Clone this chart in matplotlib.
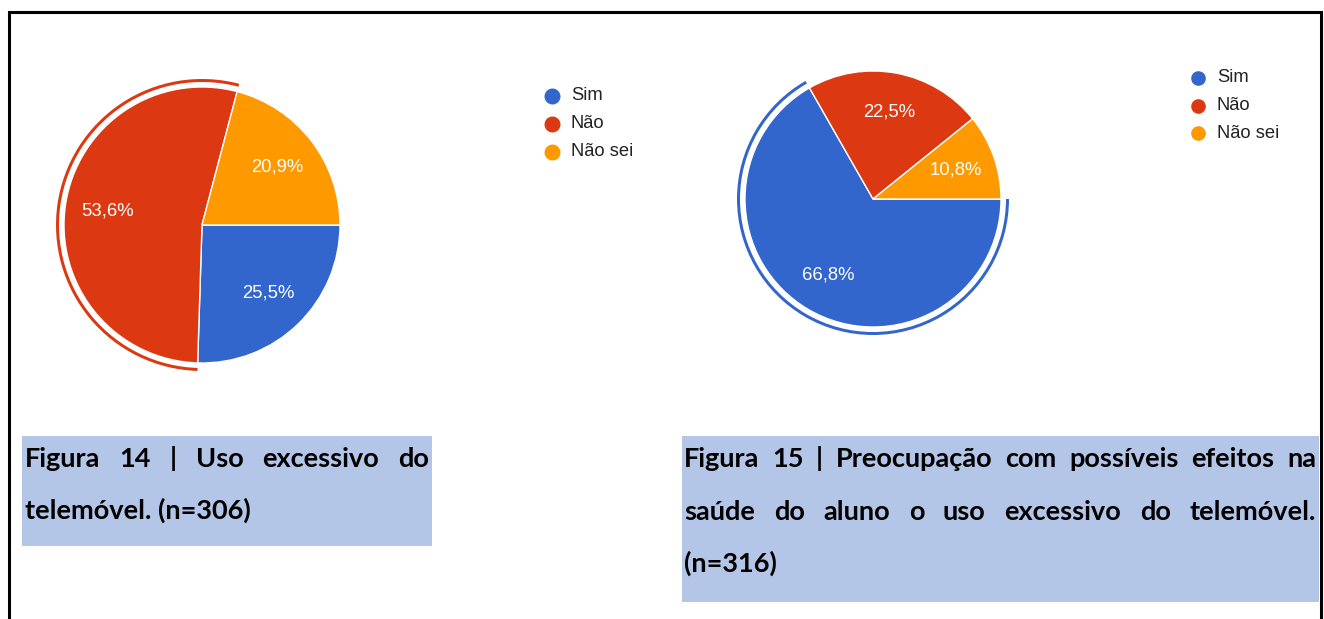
import numpy as np
import matplotlib
matplotlib.use('Agg')
import matplotlib.pyplot as plt
from matplotlib.patches import Wedge, Rectangle


# ----------------------------------------------------------------

W, H = 1324, 619    # output size in pixels

categories = ['Sim', 'Não', 'Não sei']
colors = ['#3366cc', '#dc3912', '#ff9900']

uso_excessivo = [25.5, 53.6, 20.9]     # Figura 14 (%)
preocupacao = [66.8, 22.5, 10.8]       # Figura 15 (%)

caption_14 = ['Figura 14 | Uso excessivo do',
              'telemóvel. (n=306)']
caption_15 = ['Figura 15 | Preocupação com possíveis efeitos na',
              'saúde do aluno o uso excessivo do telemóvel.',
              '(n=316)']

label_font = 'Liberation Sans'
caption_font = 'Lato'
caption_bg = '#b4c6e7'


# ----------------------------------------------------------------


def pct_text(v):
    return f'{v:.1f}%'.replace('.', ',')


def draw_pie(ax, values, center, radius, ring_idx):
    # y axis is inverted (pixel coords), so counterclock=True turns clockwise on screen
    wedges, _ = ax.pie(values, colors=colors, startangle=0, counterclock=True,
                       center=center, radius=radius, frame=True,
                       wedgeprops=dict(edgecolor='white', linewidth=1))
    cx, cy = center
    for w, v in zip(wedges, values):
        mid = np.radians((w.theta1 + w.theta2) / 2)
        ax.text(cx + 0.69 * radius * np.cos(mid), cy + 0.69 * radius * np.sin(mid),
                pct_text(v), color='white', fontsize=13.3, family=label_font,
                ha='center', va='center')

    # highlighted slice outline (google charts style)
    w = wedges[ring_idx]
    ax.add_patch(Wedge(center, radius + 8, w.theta1, w.theta2, width=3,
                       color=colors[ring_idx], lw=0))


def draw_legend(ax, x, y, step, msize):
    for i, (cat, col) in enumerate(zip(categories, colors)):
        ax.plot(x, y + i * step, 'o', ms=msize, color=col, mec=col)
        ax.text(x + 19, y + i * step, cat, fontsize=13.2, family=label_font,
                color='#222222', ha='left', va='center')


def justified(ax, renderer, lines, x0, x1, y0, dy):
    kw = dict(fontsize=19.5, family=caption_font, weight='bold', color='black',
              va='baseline', ha='left')
    for i, line in enumerate(lines):
        y = y0 + i * dy
        words = line.split()
        if i == len(lines) - 1:
            ax.text(x0, y, line, **kw)
            continue
        arts = [ax.text(0, y, wd, **kw) for wd in words]
        widths = [a.get_window_extent(renderer).width for a in arts]
        gap = (x1 - x0 - sum(widths)) / (len(words) - 1)
        x = x0
        for a, wd in zip(arts, widths):
            a.set_x(x)
            x += wd + gap


# ----------------------------------------------------------------

fig = plt.figure(figsize=(W / 100, H / 100), dpi=100)
ax = fig.add_axes([0, 0, 1, 1])

draw_pie(ax, uso_excessivo, (202, 225), 138, ring_idx=1)
draw_pie(ax, preocupacao, (873, 199), 128, ring_idx=0)

ax.set_xlim(0, W)
ax.set_ylim(H, 0)
ax.set_aspect('auto')
ax.axis('off')

draw_legend(ax, 552, 96, 28, 10.5)
draw_legend(ax, 1198, 78, 27.5, 9.5)

# caption boxes
ax.add_patch(Rectangle((22, 436), 410, 110, color=caption_bg, lw=0))
ax.add_patch(Rectangle((682, 436), 637, 166, color=caption_bg, lw=0))

renderer = fig.canvas.get_renderer()
justified(ax, renderer, caption_14, 25, 429, 467, 52)
justified(ax, renderer, caption_15, 684, 1316, 467, 52.5)

# page border
ax.plot([8.5, 8.5, 1320.5, 1320.5], [H + 5, 11.5, 11.5, H + 5], color='black',
        lw=2.2, solid_joinstyle='miter', clip_on=False)

fig.savefig('out.png', dpi=100)
